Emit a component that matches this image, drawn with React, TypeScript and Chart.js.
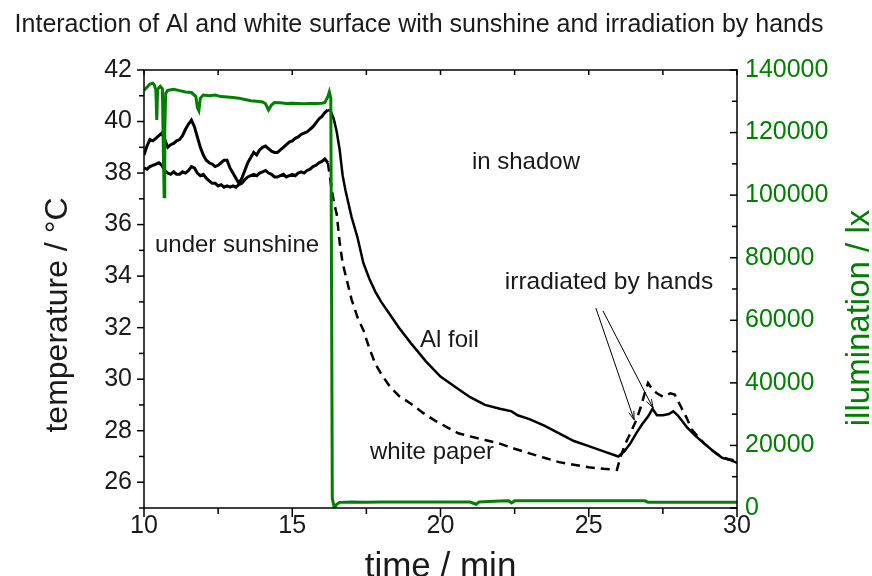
import { useEffect, useRef } from 'react';
import { Chart, registerables } from 'chart.js';

Chart.register(...registerables);

const FONT = "'Liberation Sans', Arial, sans-serif";
const GREEN = '#008000';
const INK = '#1a1a1a';

const TITLE = 'Interaction of Al and white surface with sunshine and irradiation by hands';
const X_TITLE = 'time / min';
const Y_TITLE = 'temperature / °C';
const Y1_TITLE = 'illumination / lx';

const X_TICKS = [10, 15, 20, 25, 30];
const TEMP_TICKS = [26, 28, 30, 32, 34, 36, 38, 40, 42];
const LUX_TICKS = [0, 20000, 40000, 60000, 80000, 100000, 120000, 140000];

// Al foil (solid)
const alTime = [
  10.0, 10.1, 10.2, 10.3, 10.4, 10.5, 10.6, 10.7, 10.8, 10.9,
  11.0, 11.1, 11.2, 11.3, 11.4, 11.5, 11.6, 11.7, 11.8, 11.9,
  12.0, 12.1, 12.2, 12.3, 12.4, 12.5, 12.6, 12.7, 12.8, 12.9,
  13.0, 13.1, 13.2, 13.3, 13.4, 13.5, 13.6, 13.7, 13.8, 13.9,
  14.0, 14.1, 14.2, 14.3, 14.4, 14.5, 14.6, 14.7, 14.8, 14.9,
  15.0, 15.1, 15.2, 15.3, 15.4, 15.5, 15.6, 15.7, 15.8, 15.9,
  16.0, 16.1, 16.2, 16.3,
  16.4, 16.5, 16.6, 16.7, 16.8, 16.9, 17.0, 17.2, 17.4, 17.6,
  17.8, 18.0, 18.3, 18.6, 19.0, 19.5, 20.0, 20.5, 21.0, 21.5,
  22.0, 22.2, 22.4, 22.6, 23.0, 23.5, 24.0, 24.5, 25.0, 25.5,
  26.0, 26.2, 26.4, 26.6, 26.8, 27.0, 27.15, 27.3, 27.5, 27.7,
  27.85, 28.0, 28.3, 28.6, 28.9, 29.2, 29.5, 29.8, 30.0,
];
const alTemp = [
  38.7, 39.05, 39.3, 39.25, 39.35, 39.45, 39.55, 39.3, 39.0, 39.1,
  39.15, 39.25, 39.3, 39.45, 39.7, 39.9, 40.05, 39.8, 39.4, 39.0,
  38.7, 38.5, 38.4, 38.35, 38.25, 38.3, 38.4, 38.5, 38.5, 38.2,
  38.0, 37.8, 37.6, 37.8, 38.1, 38.4, 38.6, 38.8, 38.7, 38.9,
  39.0, 39.05, 38.95, 38.85, 38.8, 38.8, 38.9, 39.0, 39.1, 39.2,
  39.25, 39.35, 39.4, 39.5, 39.55, 39.6, 39.7, 39.8, 39.95, 40.1,
  40.2, 40.35, 40.45, 40.4,
  40.1, 39.6, 38.9, 37.9, 37.3, 36.8, 36.3, 35.5, 34.5, 33.9,
  33.4, 33.0, 32.5, 32.0, 31.4, 30.7, 30.1, 29.7, 29.3, 29.0,
  28.85, 28.8, 28.75, 28.6, 28.45, 28.2, 27.9, 27.6, 27.4, 27.2,
  27.0, 27.2, 27.5, 27.9, 28.25, 28.55, 28.85, 28.6, 28.6, 28.65,
  28.75, 28.6, 28.15, 27.8, 27.5, 27.2, 26.95, 26.85, 26.75,
];

// white paper (dashed in shadow)
const paperTime = [
  10.0, 10.1, 10.2, 10.3, 10.4, 10.5, 10.6, 10.7, 10.8, 10.9,
  11.0, 11.1, 11.2, 11.3, 11.4, 11.5, 11.6, 11.7, 11.8, 11.9,
  12.0, 12.1, 12.2, 12.3, 12.4, 12.5, 12.6, 12.7, 12.8, 12.9,
  13.0, 13.1, 13.2, 13.3, 13.4, 13.5, 13.6, 13.7, 13.8, 13.9,
  14.0, 14.1, 14.2, 14.3, 14.4, 14.5, 14.6, 14.7, 14.8, 14.9,
  15.0, 15.1, 15.2, 15.3, 15.4, 15.5, 15.6, 15.7, 15.8, 15.9,
  16.0, 16.1,
  16.2, 16.3, 16.4, 16.5, 16.6, 16.7, 16.85, 17.0, 17.2, 17.4,
  17.6, 17.8, 18.0, 18.3, 18.6, 19.0, 19.4, 19.8, 20.2, 20.6,
  21.0, 21.5, 22.0, 22.5, 23.0, 23.5, 24.0, 24.5, 25.0, 25.5,
  25.95, 26.05, 26.2, 26.4, 26.6, 26.75, 26.9, 27.0, 27.15, 27.3,
  27.5, 27.75, 27.9, 28.1, 28.3, 28.47, 28.7, 28.9, 29.2, 29.45,
  29.7, 30.0,
];
const paperTemp = [
  38.2, 38.15, 38.25, 38.3, 38.35, 38.4, 38.3, 38.1, 38.0, 37.95,
  38.05, 37.95, 37.95, 38.05, 38.0, 38.1, 38.25, 38.2, 38.0, 37.9,
  37.95, 37.8, 37.7, 37.6, 37.6, 37.5, 37.55, 37.45, 37.5, 37.45,
  37.5, 37.45, 37.55, 37.6, 37.75, 37.85, 37.9, 37.95, 37.9, 38.0,
  38.05, 38.1, 38.0, 37.95, 37.85, 37.85, 37.9, 37.95, 37.85, 37.9,
  37.95, 37.9, 38.0, 38.05, 38.0, 38.1, 38.15, 38.25, 38.3, 38.4,
  38.45, 38.55,
  38.4, 37.6, 36.9, 36.4, 35.3, 34.5, 33.8, 33.1, 32.4, 31.9,
  31.2, 30.6, 30.2, 29.7, 29.35, 29.05, 28.7, 28.4, 28.15, 27.9,
  27.78, 27.64, 27.5, 27.3, 27.12, 26.95, 26.78, 26.68, 26.58, 26.52,
  26.48, 26.9, 27.4, 27.9, 28.4, 28.9, 29.5, 29.85, 29.6, 29.45,
  29.32, 29.45, 29.4, 28.95, 28.5, 28.05, 27.75, 27.5, 27.2, 27.0,
  26.9, 26.82,
];

// illumination (right axis)
const luxTime = [
  10.0, 10.1, 10.2, 10.3, 10.35, 10.4, 10.43, 10.46, 10.55, 10.62,
  10.66, 10.68, 10.7, 10.73, 10.8, 11.0, 11.2, 11.4, 11.6, 11.75,
  11.8, 11.85, 11.9, 12.0, 12.2, 12.4, 12.6, 12.8, 13.0, 13.2,
  13.4, 13.6, 13.8, 14.0, 14.1, 14.2, 14.3, 14.4, 14.6, 14.8,
  15.0, 15.2, 15.4, 15.6, 15.8, 16.0, 16.1, 16.2, 16.25, 16.3,
  16.33, 16.35, 16.42, 16.5, 16.6, 17.0, 17.5, 18.0, 19.0, 20.0,
  21.0, 21.2, 21.3, 22.0, 22.3, 22.4, 22.5, 23.0, 24.0, 25.0,
  26.0, 26.9, 27.0, 28.0, 29.0, 30.0,
];
const luxValue = [
  133500, 134500, 135500, 135800, 135200, 133500, 124000, 133800, 134800, 134000,
  110000, 99500, 120000, 132500, 133500, 133800, 133400, 133000, 132800, 131500,
  128000, 127000, 131000, 132000, 131800, 132000, 131500, 131400, 131200, 131000,
  130600, 130200, 130000, 129800, 129200, 127200, 128800, 129600, 129500, 129300,
  129400, 129300, 129200, 129300, 129300, 129400, 129600, 131500, 133000, 131000,
  60000, 3000, 0, 1200, 1800, 1900, 1800, 1900, 1900, 1900,
  1900, 1200, 1900, 2200, 2300, 1600, 2300, 2300, 2300, 2300,
  2300, 2300, 1800, 1800, 1800, 1800,
];

const SHADOW_START = 16.15;

const toPoints = (xs: number[], ys: number[]) => xs.map((x, i) => ({ x, y: ys[i] }));

const framePlugin = {
  id: 'frameAndText',
  afterDraw(chart: any) {
    const { ctx, chartArea: a, scales } = chart;
    const sx = scales.x, sy = scales.y, sy1 = scales.y1;
    const line = (x1: number, y1: number, x2: number, y2: number) => {
      ctx.beginPath();
      ctx.moveTo(x1, y1);
      ctx.lineTo(x2, y2);
      ctx.stroke();
    };
    ctx.save();
    ctx.strokeStyle = '#000';
    ctx.lineWidth = 1.5;
    ctx.strokeRect(a.left, a.top, a.right - a.left, a.bottom - a.top);
    for (let v = 10; v <= 30; v += 2.5) {
      const px = sx.getPixelForValue(v);
      const major = v % 5 === 0;
      line(px, a.bottom, px, a.bottom + (major ? 9 : 6));
      line(px, a.top, px, a.top + 5);
    }
    for (let v = 25; v <= 42; v += 1) {
      const py = sy.getPixelForValue(v);
      line(a.left - (v % 2 === 0 ? 7 : 5), py, a.left, py);
    }
    for (let v = 0; v <= 140000; v += 10000) {
      const py = sy1.getPixelForValue(v);
      line(a.right - (v % 20000 === 0 ? 7 : 5), py, a.right, py);
    }

    // arrows
    ctx.lineWidth = 1;
    const arrow = (t0: number, T0: number, t1: number, T1: number) => {
      const x0 = sx.getPixelForValue(t0), y0 = sy.getPixelForValue(T0);
      const x1 = sx.getPixelForValue(t1), y1 = sy.getPixelForValue(T1);
      line(x0, y0, x1, y1);
      const ang = Math.atan2(y1 - y0, x1 - x0);
      const L = 9, W = 0.3;
      ctx.beginPath();
      ctx.moveTo(x1, y1);
      ctx.lineTo(x1 - L * Math.cos(ang - W), y1 - L * Math.sin(ang - W));
      ctx.moveTo(x1, y1);
      ctx.lineTo(x1 - L * Math.cos(ang + W), y1 - L * Math.sin(ang + W));
      ctx.stroke();
    };
    arrow(25.24, 32.76, 26.53, 28.42);
    arrow(25.48, 32.65, 27.17, 28.88);

    // texts
    ctx.fillStyle = INK;
    ctx.textBaseline = 'alphabetic';
    ctx.textAlign = 'center';
    ctx.font = `25px ${FONT}`;
    ctx.fillText(TITLE, 419, 32);

    ctx.font = `35px ${FONT}`;
    ctx.fillText(X_TITLE, (a.left + a.right) / 2, 577);

    ctx.save();
    ctx.font = `32px ${FONT}`;
    ctx.translate(67, 315);
    ctx.rotate(-Math.PI / 2);
    ctx.fillText(Y_TITLE, 0, 0);
    ctx.restore();

    ctx.save();
    ctx.font = `33px ${FONT}`;
    ctx.fillStyle = GREEN;
    ctx.translate(869, 318);
    ctx.rotate(-Math.PI / 2);
    ctx.fillText(Y1_TITLE, 0, 0);
    ctx.restore();

    ctx.font = `24px ${FONT}`;
    ctx.textAlign = 'left';
    ctx.textBaseline = 'middle';
    const label = (s: string, t: number, T: number) =>
      ctx.fillText(s, sx.getPixelForValue(t), sy.getPixelForValue(T));
    label('under sunshine', 10.37, 35.2);
    label('in shadow', 21.06, 38.4);
    label('Al foil', 19.31, 31.52);
    label('white paper', 17.62, 27.17);
    ctx.font = `24.5px ${FONT}`;
    label('irradiated by hands', 22.17, 33.77);
    ctx.restore();
  },
};

export default function App() {
  const ref = useRef<HTMLCanvasElement>(null);
  useEffect(() => {
    if (!ref.current) return;
    const tickFont = { family: FONT, size: 25 };
    const chart = new Chart(ref.current, {
      type: 'line',
      data: {
        datasets: [
          {
            label: 'illumination',
            data: toPoints(luxTime, luxValue),
            yAxisID: 'y1',
            borderColor: GREEN,
            borderWidth: 3,
            pointRadius: 0,
            tension: 0,
          },
          {
            label: 'Al foil',
            data: toPoints(alTime, alTemp),
            yAxisID: 'y',
            borderColor: '#000',
            borderWidth: 2.5,
            pointRadius: 0,
            tension: 0,
            segment: {
              borderWidth: (c: any) => (c.p0.parsed.x < SHADOW_START ? 3 : undefined),
            },
          },
          {
            label: 'white paper',
            data: toPoints(paperTime, paperTemp),
            yAxisID: 'y',
            borderColor: '#000',
            borderWidth: 2.5,
            pointRadius: 0,
            tension: 0,
            segment: {
              borderDash: (c: any) => (c.p0.parsed.x >= SHADOW_START ? [9, 6] : undefined),
              borderWidth: (c: any) => (c.p0.parsed.x < SHADOW_START ? 3 : undefined),
            },
          },
        ],
      },
      options: {
        animation: false,
        responsive: false,
        events: [],
        layout: { padding: { top: 70, left: 0, right: 0, bottom: 0 } },
        plugins: {
          legend: { display: false },
          tooltip: { enabled: false },
          title: { display: false },
        },
        scales: {
          x: {
            type: 'linear',
            position: 'bottom',
            min: 10,
            max: 30,
            afterBuildTicks: (s: any) => {
              s.ticks = X_TICKS.map((v) => ({ value: v }));
            },
            ticks: {
              font: tickFont,
              color: INK,
              padding: 3,
              maxRotation: 0,
              autoSkip: false,
              callback: (v: any) => String(v),
            },
            grid: { display: false, drawTicks: false },
            border: { display: false },
            afterFit: (s: any) => {
              s.height = 68;
            },
          },
          y: {
            type: 'linear',
            position: 'left',
            min: 25,
            max: 42,
            afterBuildTicks: (s: any) => {
              s.ticks = TEMP_TICKS.map((v) => ({ value: v }));
            },
            ticks: {
              font: tickFont,
              color: INK,
              padding: 12,
              autoSkip: false,
              callback: (v: any) => String(v),
            },
            grid: { display: false, drawTicks: false },
            border: { display: false },
            afterFit: (s: any) => {
              s.width = 144;
            },
          },
          y1: {
            type: 'linear',
            position: 'right',
            min: 0,
            max: 140000,
            afterBuildTicks: (s: any) => {
              s.ticks = LUX_TICKS.map((v) => ({ value: v }));
            },
            ticks: {
              font: tickFont,
              color: GREEN,
              padding: 8,
              autoSkip: false,
              callback: (v: any) => String(v),
            },
            grid: { display: false, drawTicks: false },
            border: { display: false },
            afterFit: (s: any) => {
              s.width = 135;
            },
          },
        },
      },
      plugins: [framePlugin],
    } as any);
    return () => chart.destroy();
  }, []);
  return (
    <canvas
      ref={ref}
      width={872}
      height={576}
      style={{ position: 'fixed', left: 0, top: 0, background: '#fff' }}
    />
  );
}
